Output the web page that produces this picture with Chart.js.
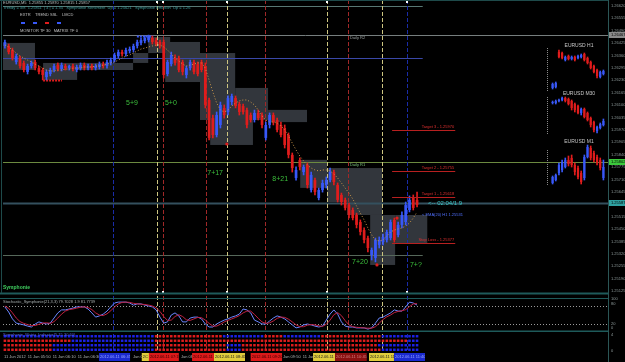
<!DOCTYPE html>
<html>
<head>
<meta charset="utf-8">
<script src="https://cdn.jsdelivr.net/npm/chart.js@4.4.1/dist/chart.umd.min.js"></script>
<style>
html, body { margin: 0; padding: 0; background: #000; }
#wrap { position: relative; width: 625px; height: 362px; background: #000; overflow: hidden; }
.pane { position: absolute; }
</style>
</head>
<body>
<div id="wrap">
  <div class="pane" style="left:0;top:0;width:625px;height:296px"><canvas id="mainChart"></canvas></div>
  <div class="pane" style="left:0;top:296px;width:625px;height:36px"><canvas id="stochChart"></canvas></div>
  <div class="pane" style="left:0;top:332px;width:625px;height:30px"><canvas id="matrixChart"></canvas></div>
  <div class="pane" style="left:543px;top:40px;width:65px;height:52px"><canvas id="miniH1"></canvas></div>
  <div class="pane" style="left:543px;top:88px;width:65px;height:48px"><canvas id="miniM30"></canvas></div>
  <div class="pane" style="left:543px;top:136px;width:65px;height:54px"><canvas id="miniM1"></canvas></div>
</div>
<script>
// EURUSD M5 candles
const candleOpen = [1.26410,1.26410,1.26389,1.26326,1.26347,1.26321,1.26274,1.26305,1.26326,1.26294,
  1.26284,1.26247,1.26263,1.26284,1.26310,1.26289,1.26305,1.26294,1.26305,1.26284,
  1.26294,1.26310,1.26294,1.26305,1.26294,1.26300,1.26315,1.26305,1.26321,1.26336,
  1.26357,1.26378,1.26368,1.26384,1.26389,1.26410,1.26426,1.26436,1.26441,1.26452,
  1.26441,1.26431,1.26431,1.26263,1.26315,1.26347,1.26347,1.26326,1.26258,1.26294,
  1.26326,1.26315,1.26326,1.26305,1.26127,1.26032,1.25943,1.25996,1.26085,1.26064,
  1.26116,1.26137,1.26106,1.26095,1.26074,1.26048,1.26022,1.26059,1.26048,1.25928,
  1.25996,1.26048,1.26022,1.25996,1.25980,1.25943,1.25839,1.25718,1.25812,1.25749,
  1.25786,1.25655,1.25707,1.25613,1.25655,1.25681,1.25707,1.25749,1.25681,1.25629,
  1.25603,1.25576,1.25550,1.25524,1.25487,1.25445,1.25403,1.25314,1.25299,1.25367,
  1.25382,1.25393,1.25403,1.25498,1.25419,1.25472,1.25487,1.25550,1.25613,1.25603];
const candleClose = [1.26431,1.26378,1.26347,1.26357,1.26305,1.26284,1.26305,1.26321,1.26294,1.26274,
  1.26258,1.26274,1.26284,1.26305,1.26289,1.26310,1.26294,1.26305,1.26289,1.26300,
  1.26310,1.26294,1.26305,1.26294,1.26305,1.26315,1.26305,1.26326,1.26336,1.26363,
  1.26378,1.26368,1.26389,1.26394,1.26410,1.26431,1.26441,1.26452,1.26457,1.26431,
  1.26420,1.26415,1.26258,1.26326,1.26363,1.26321,1.26284,1.26274,1.26294,1.26326,
  1.26274,1.26263,1.26284,1.26101,1.25928,1.25943,1.26048,1.26101,1.26048,1.26137,
  1.26148,1.26095,1.26064,1.26064,1.25996,1.26022,1.26059,1.26032,1.25996,1.25996,
  1.26048,1.26011,1.25970,1.25943,1.25891,1.25839,1.25770,1.25760,1.25776,1.25776,
  1.25681,1.25734,1.25644,1.25655,1.25692,1.25707,1.25749,1.25697,1.25603,1.25592,
  1.25561,1.25524,1.25508,1.25472,1.25435,1.25393,1.25351,1.25341,1.25393,1.25393,
  1.25409,1.25435,1.25487,1.25393,1.25472,1.25524,1.25576,1.25603,1.25561,1.25576];
const candleHigh = [1.26441,1.26420,1.26399,1.26368,1.26357,1.26331,1.26315,1.26331,1.26336,1.26305,
  1.26294,1.26284,1.26294,1.26315,1.26321,1.26321,1.26315,1.26310,1.26315,1.26310,
  1.26321,1.26321,1.26315,1.26315,1.26315,1.26326,1.26326,1.26336,1.26347,1.26373,
  1.26389,1.26389,1.26399,1.26405,1.26420,1.26441,1.26452,1.26462,1.26467,1.26462,
  1.26452,1.26441,1.26441,1.26336,1.26378,1.26363,1.26357,1.26336,1.26305,1.26336,
  1.26336,1.26326,1.26336,1.26321,1.26137,1.26048,1.26064,1.26116,1.26101,1.26148,
  1.26158,1.26148,1.26116,1.26106,1.26085,1.26059,1.26074,1.26074,1.26059,1.26011,
  1.26059,1.26059,1.26032,1.26011,1.25996,1.25954,1.25849,1.25776,1.25823,1.25786,
  1.25797,1.25749,1.25718,1.25665,1.25707,1.25723,1.25770,1.25760,1.25692,1.25639,
  1.25613,1.25587,1.25561,1.25534,1.25498,1.25456,1.25414,1.25351,1.25403,1.25409,
  1.25424,1.25445,1.25498,1.25508,1.25487,1.25540,1.25592,1.25624,1.25629,1.25644];
const candleLow = [1.26399,1.26368,1.26336,1.26315,1.26294,1.26274,1.26263,1.26294,1.26284,1.26263,
  1.26232,1.26232,1.26253,1.26274,1.26279,1.26279,1.26284,1.26284,1.26279,1.26274,
  1.26284,1.26284,1.26284,1.26284,1.26284,1.26289,1.26294,1.26294,1.26310,1.26326,
  1.26347,1.26357,1.26357,1.26373,1.26378,1.26399,1.26415,1.26426,1.26431,1.26420,
  1.26410,1.26399,1.26242,1.26253,1.26305,1.26310,1.26274,1.26258,1.26242,1.26284,
  1.26263,1.26253,1.26274,1.26085,1.25917,1.25928,1.25933,1.25980,1.26032,1.26048,
  1.26101,1.26085,1.26048,1.26053,1.25980,1.26011,1.26011,1.26022,1.25980,1.25917,
  1.25980,1.25996,1.25959,1.25933,1.25875,1.25823,1.25749,1.25707,1.25760,1.25734,
  1.25665,1.25644,1.25629,1.25603,1.25644,1.25665,1.25697,1.25681,1.25592,1.25576,
  1.25550,1.25508,1.25498,1.25456,1.25419,1.25377,1.25330,1.25288,1.25278,1.25351,
  1.25367,1.25382,1.25393,1.25382,1.25409,1.25456,1.25472,1.25540,1.25550,1.25566];
// dotted trend average
const trendMA = [1.26415,1.26405,1.26389,1.26373,1.26357,1.26347,1.26336,1.26326,1.26315,1.26305,
  1.26294,1.26284,1.26279,1.26279,1.26284,1.26284,1.26289,1.26289,1.26294,1.26294,
  1.26294,1.26300,1.26300,1.26300,1.26305,1.26305,1.26310,1.26315,1.26321,1.26326,
  1.26336,1.26347,1.26357,1.26363,1.26373,1.26384,1.26394,1.26399,1.26405,1.26410,
  1.26415,1.26415,1.26405,1.26389,1.26368,1.26347,1.26331,1.26315,1.26305,1.26310,
  1.26315,1.26321,1.26321,1.26294,1.26232,1.26169,1.26111,1.26074,1.26064,1.26074,
  1.26095,1.26111,1.26122,1.26127,1.26127,1.26116,1.26101,1.26074,1.26043,1.26022,
  1.26011,1.26011,1.26006,1.25991,1.25970,1.25938,1.25901,1.25865,1.25833,1.25807,
  1.25786,1.25770,1.25760,1.25755,1.25760,1.25760,1.25755,1.25739,1.25718,1.25692,
  1.25665,1.25639,1.25608,1.25571,1.25534,1.25498,1.25456,1.25419,1.25393,1.25388,
  1.25393,1.25414,1.25435,1.25445,1.25451,1.25456,1.25466,1.25482,1.25508,1.25540];

// Stochastic_Symphonie
const stochMain = [77,60,37,23,20,17,13,10,20,27, 23,20,23,40,57,67,67,70,73,77,
  77,77,70,57,43,47,53,63,77,90, 93,93,93,90,83,87,87,83,80,77,
  67,43,23,27,50,57,47,27,27,40, 43,43,37,20,10,10,20,27,33,37,
  43,47,53,70,67,57,33,27,20,20, 30,40,47,43,37,27,17,7,10,17,
  20,17,13,10,13,33,53,67,53,27, 13,10,10,7,7,7,3,7,23,40,
  43,50,57,67,63,63,77,93,90,83];
const stochSignal = [80,72,57,40,28,22,18,15,15,19, 23,24,22,28,40,53,63,68,70,73,
  76,77,75,68,57,50,48,54,64,77, 87,92,93,92,89,87,86,85,83,80,
  74,62,45,32,33,45,51,45,34,32, 37,42,41,33,22,13,13,19,27,32,
  37,42,48,57,63,63,52,39,27,22, 24,30,39,43,42,36,27,17,11,11,
  16,18,17,14,12,19,33,51,58,48, 31,17,11,9,8,7,6,6,11,23,
  35,44,50,58,62,64,68,78,87,88];
const stochLevels = [80, 20];

// Symphonie matrix rows, as runs of B (blue) / R (red) candles
const matrixRows = [
  [['B',40],['R',18],['B',11],['R',5],['B',10],['R',16],['B',10]],
  [['R',18],['B',22],['R',67],['B',3]],
  [['R',13],['B',27],['R',19],['B',4],['R',36],['B',11]],
  [['R',13],['B',27],['R',19],['B',4],['R',37],['B',10]]
];

const priceTicks = [1.26620,1.26555,1.26490,1.26425,1.26360,1.26295,1.26230,1.26165,1.26100,1.26035,
  1.25970,1.25905,1.25840,1.25775,1.25710,1.25645,1.25580,1.25515,1.25450,1.25385,1.25320,1.25255,1.25190,1.25125];

// levels
const weeklyLevel = 1.26620;
const dailyR2 = 1.26467;
const h1Level = 1.26347;
const dailyR1 = 1.25802;
const bidLevel = 1.25587;
const lowLevel = 1.25314;
const targets = [['Target 3', 1.25970], ['Target 2', 1.25755], ['Target 1', 1.25618], ['Stop Loss', 1.25377]];
const emaH1 = 1.25531;

// zones: [from candle, to candle, top, bottom]
const zones = [[-0.5,7.96,1.26426,1.26284],[10.1,19.1,1.26321,1.26232],[19.1,33.9,1.26321,1.26284],
  [33.9,37.9,1.26373,1.26321],[37.9,43.7,1.26457,1.26373],[42.4,51.6,1.26431,1.26221],
  [51.6,60.9,1.26373,1.26022],[54.3,65.6,1.26075,1.25891],[60.9,69.6,1.26190,1.26022],
  [69.6,79.9,1.26075,1.26011],[78.1,85.2,1.25813,1.25666],[85.2,99.8,1.25770,1.25592],
  [90.5,99.8,1.25592,1.25524],[96.6,103.2,1.25524,1.25262],[103.2,111.7,1.25524,1.25377]];

// session separators (candle position, kind, marked)
const sessionLines = [[28.6,'blue',0],[40.2,'yellow',1],[41.8,'red',1],[53.2,'red',0],[58.7,'yellow',1],
  [68.8,'red',0],[85.2,'yellow',1],[90.7,'red',0],[99.7,'yellow',0],[106.4,'blue',1]];

// wave counts: [text, candle, price]
const waveCounts = [['5+9',33.6,1.26111],['5+0',43.9,1.26111],['7+17',55.6,1.25744],
  ['8+21',72.8,1.25713],['7+20',93.9,1.25278],['7+?',108.7,1.25262]];

const sslMarks = [[10.1,15.1,1.26232,'red'],[34.9,39.2,1.26462,'blue']];
const signalDots = [[58.7,1.25896],[98.4,1.25262],[103.7,1.25508]];
const monitorStates = ['up','up','down','up'];

// bottom time strip: [from, to, text, kind]
const timeMarks = [[-0.5,5.0,'11 Jun 2012','plain'],[5.8,12.0,'11 Jun 05:50','plain'],
  [12.4,18.6,'11 Jun 06:10','plain'],[19.0,24.6,'11 Jun 06:30','plain'],
  [24.9,33.1,'2012.06.11 06:45','blue'],[33.6,36.0,'Jun 07','plain'],[36.2,38.1,'2C','yellow'],
  [38.1,46.0,'2012.06.11 07:15','red'],[46.3,49.3,'Jun 08','plain'],[49.5,55.3,'2012.06.11 08:20','red'],
  [55.3,63.5,'2012.06.11 08:45','yellow'],[65.0,73.3,'2012.06.11 09:20','red'],
  [73.3,81.3,'Jun 09:50  11 Jun','plain'],[81.5,87.3,'2012.06.11 10:20','yellow'],
  [87.3,95.7,'2012.06.11 10:45','darkred'],[96.3,102.9,'2012.06.11 11:15','yellow'],
  [102.9,111.1,'2012.06.11 11:40','blue']];

// mini charts
const h1Open  = [1.26200,1.26205,1.26380,1.26375,1.26340,1.26360,1.26345,1.26355,1.26350,1.26355,1.26370,1.26350,1.26330,1.26310,1.26290,1.26255,1.26270];
const h1Close = [1.26220,1.26225,1.26355,1.26350,1.26355,1.26345,1.26355,1.26340,1.26360,1.26365,1.26340,1.26325,1.26300,1.26280,1.26260,1.26280,1.26285];
const h1High  = [1.26225,1.26230,1.26390,1.26380,1.26360,1.26365,1.26360,1.26360,1.26365,1.26370,1.26375,1.26355,1.26335,1.26315,1.26295,1.26285,1.26290];
const h1Low   = [1.26195,1.26200,1.26350,1.26345,1.26335,1.26340,1.26340,1.26335,1.26345,1.26350,1.26335,1.26320,1.26295,1.26275,1.26250,1.26250,1.26265];
const m30Open  = [1.26035,1.26035,1.26045,1.26050,1.26060,1.26055,1.26045,1.26030,1.26020,1.25985,1.26005,1.25985,1.25960,1.25940,1.25895,1.25910,1.25925];
const m30Close = [1.26040,1.26045,1.26050,1.26060,1.26045,1.26030,1.26010,1.26000,1.25985,1.26005,1.25965,1.25950,1.25925,1.25900,1.25915,1.25930,1.25945];
const m30High  = [1.26045,1.26050,1.26055,1.26065,1.26065,1.26060,1.26050,1.26035,1.26025,1.26010,1.26010,1.25990,1.25965,1.25945,1.25920,1.25935,1.25955];
const m30Low   = [1.26030,1.26030,1.26040,1.26045,1.26040,1.26025,1.26000,1.25990,1.25980,1.25975,1.25960,1.25945,1.25915,1.25890,1.25885,1.25905,1.25920];
const m1Open  = [1.25675,1.25690,1.25725,1.25740,1.25755,1.25790,1.25800,1.25765,1.25750,1.25725,1.25700,1.25805,1.25850,1.25825,1.25805,1.25790,1.25700];
const m1Close = [1.25705,1.25715,1.25765,1.25780,1.25790,1.25770,1.25765,1.25730,1.25705,1.25680,1.25805,1.25855,1.25800,1.25790,1.25775,1.25750,1.25755];
const m1High  = [1.25710,1.25720,1.25775,1.25790,1.25800,1.25810,1.25815,1.25775,1.25760,1.25735,1.25815,1.25865,1.25860,1.25835,1.25815,1.25800,1.25790];
const m1Low   = [1.25670,1.25685,1.25715,1.25730,1.25750,1.25760,1.25755,1.25715,1.25695,1.25670,1.25690,1.25800,1.25790,1.25780,1.25765,1.25740,1.25690];

const SLOTS = 160;
const slotLabels = Array.from({ length: SLOTS }, (_, i) => String(i));
const RED = '#e01c1c', BLUE = '#3858f8';
const FONT = '"Liberation Sans", Arial, sans-serif';
const candleColors = candleClose.map((c, i) => c >= candleOpen[i] ? BLUE : RED);
const lineColors = { blue: '#1a2ca8', yellow: '#ccc480', red: '#a02828' };
const AXIS_W = 17;

function baseX() {
  return { display: false, offset: true, grid: { display: false } };
}
function sideAxis(min, max) {
  return { position: 'right', min: min, max: max, ticks: { display: false }, grid: { display: false },
    border: { display: false }, afterFit: s => { s.width = AXIS_W; } };
}
function hLine(ctx, x1, x2, y, color, width, dash) {
  ctx.save();
  ctx.strokeStyle = color; ctx.lineWidth = width || 1; ctx.setLineDash(dash || []);
  ctx.beginPath(); ctx.moveTo(x1, Math.round(y) + 0.5); ctx.lineTo(x2, Math.round(y) + 0.5); ctx.stroke();
  ctx.restore();
}
function text(ctx, s, x, y, color, size, align, weight) {
  ctx.save();
  ctx.font = (weight || '') + ' ' + size + 'px ' + FONT;
  ctx.fillStyle = color; ctx.textAlign = align || 'left'; ctx.textBaseline = 'middle';
  ctx.fillText(s, x, y);
  ctx.restore();
}
function drawSessionLines(chart, y1, y2) {
  const ctx = chart.ctx, xs = chart.scales.x;
  ctx.save();
  ctx.lineWidth = 1; ctx.setLineDash([4, 2]);
  sessionLines.forEach(([pos, kind]) => {
    const x = Math.round(xs.getPixelForValue(pos)) + 0.5;
    ctx.strokeStyle = lineColors[kind];
    ctx.beginPath(); ctx.moveTo(x, y1); ctx.lineTo(x, y2); ctx.stroke();
  });
  ctx.restore();
}
function drawAxisLine(chart) {
  const ctx = chart.ctx, x = chart.chartArea.right + 0.5;
  ctx.save(); ctx.strokeStyle = '#2b5656'; ctx.lineWidth = 1;
  ctx.beginPath(); ctx.moveTo(x, 0); ctx.lineTo(x, chart.height); ctx.stroke(); ctx.restore();
}

// ---------- main price panel ----------
const mainPlugin = {
  id: 'mainDecor',
  beforeDatasetsDraw(chart) {
    const ctx = chart.ctx, xs = chart.scales.x, ys = chart.scales.y, a = chart.chartArea;
    ctx.save();
    ctx.fillStyle = '#32363c';
    zones.forEach(([i1, i2, top, bot]) => {
      const x1 = xs.getPixelForValue(i1), x2 = xs.getPixelForValue(i2);
      const y1 = ys.getPixelForValue(top), y2 = ys.getPixelForValue(bot);
      ctx.fillRect(x1, y1, x2 - x1, y2 - y1);
    });
    ctx.restore();
    const endX = xs.getPixelForValue(110.5);
    hLine(ctx, a.left, endX, ys.getPixelForValue(weeklyLevel), '#587874', 1);
    hLine(ctx, a.left, a.right, ys.getPixelForValue(dailyR2), '#767e7e', 1);
    hLine(ctx, a.left, endX, ys.getPixelForValue(h1Level), '#3a48a8', 1);
    hLine(ctx, a.left, a.right, ys.getPixelForValue(dailyR1), '#6c8a40', 1);
    hLine(ctx, a.left, a.right, ys.getPixelForValue(bidLevel), '#34505e', 2);
    hLine(ctx, a.left, endX, ys.getPixelForValue(lowLevel), '#56685a', 1);
    drawSessionLines(chart, a.top, a.bottom);
    sslMarks.forEach(([i1, i2, p, kind]) => {
      hLine(ctx, xs.getPixelForValue(i1), xs.getPixelForValue(i2), ys.getPixelForValue(p),
        kind === 'red' ? RED : BLUE, 2, [2, 1]);
    });
  },
  afterDatasetsDraw(chart) {
    const ctx = chart.ctx, xs = chart.scales.x, ys = chart.scales.y, a = chart.chartArea;
    // targets
    const tx1 = xs.getPixelForValue(102.4), tx2 = xs.getPixelForValue(119.1);
    targets.forEach(([name, p]) => {
      const y = ys.getPixelForValue(p);
      hLine(ctx, tx1, tx2, y, '#b82020', 1);
      text(ctx, name + ' - ' + p.toFixed(5), tx2 - 1, y - 3, '#e03030', 4, 'right');
    });
    text(ctx, '<-- 02:04/1.9', xs.getPixelForValue(111.9), ys.getPixelForValue(bidLevel), '#3cc8c8', 6);
    text(ctx, '< EMA(20) H1 ' + emaH1.toFixed(5), xs.getPixelForValue(110.3), ys.getPixelForValue(1.25524), '#5070ff', 4);
    text(ctx, 'Daily R2', xs.getPixelForValue(91.3), ys.getPixelForValue(dailyR2) + 3, '#9aa0a0', 4);
    text(ctx, 'Daily R1', xs.getPixelForValue(91.3), ys.getPixelForValue(dailyR1) + 3, '#7ac07a', 4);
    waveCounts.forEach(([s, i, p]) => text(ctx, s, xs.getPixelForValue(i), ys.getPixelForValue(p), '#3cbf3c', 7, 'center'));
    ctx.save(); ctx.fillStyle = RED;
    signalDots.forEach(([i, p]) => { ctx.beginPath(); ctx.arc(xs.getPixelForValue(i), ys.getPixelForValue(p), 1.6, 0, Math.PI * 2); ctx.fill(); });
    ctx.restore();
    // session markers
    ctx.save(); ctx.fillStyle = '#ffffff';
    sessionLines.forEach(([pos, , marked]) => {
      if (!marked) return;
      const x = Math.round(xs.getPixelForValue(pos));
      ctx.fillRect(x - 1, 1, 2, 2); ctx.fillRect(x - 1, a.bottom - 2, 2, 2);
    });
    ctx.restore();
    // header texts
    text(ctx, 'EURUSD,M5  1.25855 1.25870 1.25815 1.25857', 3, 3, '#b8c0c0', 4);
    text(ctx, 'Trendy = 3/8  1.25811  | 4 | = 1.35   Symphonie Sentiment  Up = 1.25621   Symphonie Emotion  Up = 1.26', 3, 8, '#3a9a9a', 4);
    text(ctx, 'EXTR    TREND SSL    LMCD', 20, 15, '#c0c0c0', 4);
    ctx.save();
    monitorStates.forEach((s, k) => { ctx.fillStyle = s === 'up' ? BLUE : RED; ctx.fillRect(21 + k * 12, 22, 4, 2); });
    ctx.restore();
    text(ctx, 'MONITOR TF 30   MATRIX TF 0', 20, 31, '#c0c0c0', 4);
    text(ctx, 'Symphonie', 3, 288, '#40d060', 5, 'left', 'bold');
    hLine(ctx, 0, a.right, 0, '#1e4a4a', 1);
    hLine(ctx, 0, a.right, a.bottom, '#1e5a5a', 2);
    ctx.save(); ctx.strokeStyle = '#1e4a4a'; ctx.beginPath(); ctx.moveTo(1.5, 0); ctx.lineTo(1.5, a.bottom); ctx.stroke(); ctx.restore();
  },
  afterDraw(chart) {
    const ctx = chart.ctx, ys = chart.scales.y, a = chart.chartArea;
    drawAxisLine(chart);
    priceTicks.forEach(v => text(ctx, v.toFixed(5), a.right + 3, ys.getPixelForValue(v), '#8c9898', 4));
    [[dailyR2, '#8a8a8a'], [dailyR1, '#3cc83c'], [bidLevel, '#2fa0a0']].forEach(([p, bg]) => {
      const y = Math.round(ys.getPixelForValue(p));
      ctx.save(); ctx.fillStyle = bg; ctx.fillRect(a.right + 1, y - 3, AXIS_W - 1, 6); ctx.restore();
      text(ctx, p.toFixed(5), a.right + 3, y, '#000000', 4);
    });
  }
};

new Chart(document.getElementById('mainChart'), {
  type: 'bar',
  data: {
    labels: slotLabels,
    datasets: [
      { type: 'line', data: trendMA, borderColor: '#c8964a', borderWidth: 1, borderDash: [1, 2],
        pointRadius: 0, order: 0 },
      { data: candleLow.map((l, i) => [l, candleHigh[i]]), backgroundColor: candleColors,
        barThickness: 1, grouped: false, order: 2 },
      { data: candleOpen.map((o, i) => [Math.min(o, candleClose[i]), Math.max(o, candleClose[i])]),
        backgroundColor: candleColors, barPercentage: 0.72, categoryPercentage: 1, minBarLength: 1,
        grouped: false, order: 1 }
    ]
  },
  options: {
    responsive: true, maintainAspectRatio: false, animation: false,
    layout: { padding: { left: 3, right: 0, top: 0, bottom: 3 } },
    plugins: { legend: { display: false }, tooltip: { enabled: false } },
    scales: { x: baseX(), y: sideAxis(1.25115, 1.26651) }
  },
  plugins: [mainPlugin]
});

// ---------- stochastic panel ----------
const stochPlugin = {
  id: 'stochDecor',
  beforeDatasetsDraw(chart) {
    const ctx = chart.ctx, ys = chart.scales.y, a = chart.chartArea;
    stochLevels.forEach(v => hLine(ctx, a.left, a.right, ys.getPixelForValue(v), '#9a9a9a', 1, [1, 2]));
    drawSessionLines(chart, 0, chart.height);
  },
  afterDraw(chart) {
    const ctx = chart.ctx, ys = chart.scales.y, a = chart.chartArea;
    hLine(ctx, 0, a.right, 2, '#1e5a5a', 1);
    hLine(ctx, 0, a.right, chart.height - 1, '#1e5a5a', 2);
    text(ctx, 'Stochastic_Symphonie(21,3,3) 79.7028 1.9 81.7739', 3, 6, '#a8b0b0', 4);
    drawAxisLine(chart);
    [[100, -1], [80, -2], [20, 0], [0, -2]].forEach(([v, dy]) => text(ctx, String(v), a.right + 3, ys.getPixelForValue(v) + dy, '#8c9898', 4));
  }
};
new Chart(document.getElementById('stochChart'), {
  type: 'line',
  data: {
    labels: slotLabels,
    datasets: [
      { data: stochSignal, borderColor: '#c02040', borderWidth: 1, pointRadius: 0 },
      { data: stochMain, borderColor: '#6a86ff', borderWidth: 1, pointRadius: 0 }
    ]
  },
  options: {
    responsive: true, maintainAspectRatio: false, animation: false,
    layout: { padding: { left: 3, right: 0, top: 4, bottom: 2 } },
    plugins: { legend: { display: false }, tooltip: { enabled: false } },
    scales: { x: baseX(), y: sideAxis(0, 100) }
  },
  plugins: [stochPlugin]
});

// ---------- matrix panel ----------
function expandRuns(runs) {
  const out = [];
  runs.forEach(([c, n]) => { for (let k = 0; k < n; k++) out.push(c); });
  return out;
}
const matrixSets = matrixRows.map((runs, r) => {
  const level = 4 - r;
  const cells = expandRuns(runs);
  return {
    data: cells.map(() => [level - 0.27, level + 0.27]),
    backgroundColor: cells.map(c => c === 'B' ? '#1c22e8' : '#e01c1c'),
    barPercentage: 0.68, categoryPercentage: 1, grouped: false
  };
});
const boxColors = { blue: ['#1a2ad0', '#9aa8ff'], yellow: ['#e0cc3c', '#202020'], red: ['#dc1a1a', '#3a0000'],
  darkred: ['#8a1010', '#d08080'] };
const matrixPlugin = {
  id: 'matrixDecor',
  beforeDatasetsDraw(chart) {
    drawSessionLines(chart, chart.chartArea.top, chart.chartArea.bottom);
  },
  afterDraw(chart) {
    const ctx = chart.ctx, xs = chart.scales.x, a = chart.chartArea;
    text(ctx, 'Symphonie_Matrix_Indicator(5,15,30,60)', 3, 2.5, '#5a6ae0', 4);
    drawAxisLine(chart);
    text(ctx, '4', a.right + 3, 3, '#8c9898', 4);
    text(ctx, '0', a.right + 3, 19, '#8c9898', 4);
    timeMarks.forEach(([i1, i2, s, kind]) => {
      const x1 = xs.getPixelForValue(i1), x2 = xs.getPixelForValue(i2);
      ctx.save();
      if (kind !== 'plain') {
        ctx.fillStyle = boxColors[kind][0];
        ctx.fillRect(x1, 21, x2 - x1, 8);
        ctx.beginPath(); ctx.rect(x1, 21, x2 - x1, 8); ctx.clip();
        text(ctx, s, x1 + 1, 25, boxColors[kind][1], 4);
      } else {
        text(ctx, s, x1 + 1, 25, '#b0b4b4', 4);
      }
      ctx.restore();
    });
  }
};
new Chart(document.getElementById('matrixChart'), {
  type: 'bar',
  data: { labels: slotLabels, datasets: matrixSets },
  options: {
    responsive: true, maintainAspectRatio: false, animation: false,
    layout: { padding: { left: 3, right: 0, top: 2, bottom: 10 } },
    plugins: { legend: { display: false }, tooltip: { enabled: false } },
    scales: { x: baseX(), y: sideAxis(0.5, 4.5) }
  },
  plugins: [matrixPlugin]
});

// ---------- mini charts ----------
function makeMini(id, title, o, c, h, l, yMin, yMax, padTop, dotFrom, dotTo) {
  const cols = c.map((v, i) => v >= o[i] ? BLUE : RED);
  new Chart(document.getElementById(id), {
    type: 'bar',
    data: {
      labels: o.map((_, i) => String(i)),
      datasets: [
        { data: l.map((v, i) => [v, h[i]]), backgroundColor: cols, barThickness: 1, grouped: false, order: 2 },
        { data: o.map((v, i) => [Math.min(v, c[i]), Math.max(v, c[i])]), backgroundColor: cols,
          barPercentage: 0.7, categoryPercentage: 1, minBarLength: 1, grouped: false, order: 1 }
      ]
    },
    options: {
      responsive: true, maintainAspectRatio: false, animation: false,
      layout: { padding: { left: 8, right: 3, top: padTop, bottom: 0 } },
      plugins: { legend: { display: false }, tooltip: { enabled: false } },
      scales: { x: baseX(), y: { display: false, min: yMin, max: yMax } }
    },
    plugins: [{
      id: 'miniDecor',
      afterDraw(chart) {
        const ctx = chart.ctx;
        ctx.save(); ctx.strokeStyle = '#8a8a8a'; ctx.setLineDash([1, 1]);
        ctx.beginPath(); ctx.moveTo(4.5, dotFrom); ctx.lineTo(4.5, dotTo); ctx.stroke(); ctx.restore();
        text(ctx, title, 36, 6, '#c8c8c8', 5, 'center');
      }
    }]
  });
}
makeMini('miniH1', 'EURUSD H1', h1Open, h1Close, h1High, h1Low, 1.26180, 1.26420, 4, 8, 52);
makeMini('miniM30', 'EURUSD M30', m30Open, m30Close, m30High, m30Low, 1.25870, 1.26100, 2, 9, 47);
makeMini('miniM1', 'EURUSD M1', m1Open, m1Close, m1High, m1Low, 1.25640, 1.25900, 2, 14, 49);
</script>
</body>
</html>
